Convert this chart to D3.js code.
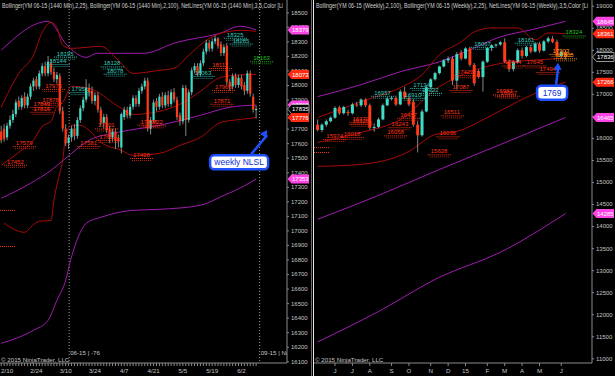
<!DOCTYPE html>
<html>
<head>
<meta charset="utf-8">
<script src="https://cdn.jsdelivr.net/npm/d3@7"></script>
<style>
  body { margin: 0; background: #000; }
  svg { display: block; font-family: "Liberation Sans", Arial, sans-serif; }
</style>
</head>
<body>
<svg id="chart" width="615" height="376"></svg>
<script>
// ---------- daily panel ----------
let leftTitle = "Bollinger(YM 06-15 (1440 Min),2,25), Bollinger(YM 06-15 (1440 Min),2,100), NetLines(YM 06-15 (1440 Min),3,5,Color [Li"
let leftDates = ["2/10", "2/24", "3/10", "3/24", "4/7", "4/21", "5/5", "5/19", "6/2"]
let leftDateIdx = [2, 12, 22, 32, 42, 52, 62, 72, 82]
let leftRollovers = [[23.2, "06-15 | -76"], [88.2, "09-15 | Nor"]]
// open, high, low, close
let leftBars = [
  [17680,17720,17600,17620],[17700,17730,17610,17630],[17640,17740,17620,17720],[17720,17790,17700,17760],
  [17760,17830,17740,17800],[17800,17900,17780,17880],[17890,17920,17830,17850],[17850,17930,17830,17910],
  [17920,17950,17840,17860],[17860,17940,17840,17920],[17920,18010,17900,17990],[17990,18050,17960,18030],
  [18040,18060,17970,17990],[17990,18100,17970,18080],[18080,18150,18060,18130],[18130,18160,18060,18080],
  [18080,18200,18060,18160],[18150,18180,18070,18090],[18090,18120,18020,18040],[18040,18090,18010,18070],
  [18060,18080,17800,17820],[17820,17850,17680,17700],[17700,17730,17580,17600],[17600,17660,17560,17640],
  [17640,17720,17610,17700],[17700,17730,17620,17650],[17650,17780,17630,17760],[17760,17860,17740,17840],
  [17840,17920,17820,17900],[17900,18040,17880,17980],[17980,18010,17920,17950],[17960,17990,17870,17890],
  [17890,17950,17860,17930],[17930,17950,17810,17830],[17830,17850,17720,17740],[17740,17800,17700,17780],
  [17780,17800,17670,17690],[17700,17720,17600,17640],[17640,17700,17610,17680],[17680,17700,17560,17620],
  [17640,17660,17570,17610],[17570,17810,17530,17800],[17780,17850,17760,17830],[17830,17850,17770,17790],
  [17790,17870,17770,17850],[17850,17930,17830,17910],[17910,17930,17850,17870],[17870,17980,17850,17960],
  [17960,18010,17940,17990],[17990,18050,17970,18030],[18030,18050,17680,17700],[17700,17780,17660,17760],
  [17760,17900,17740,17880],[17890,17910,17820,17850],[17850,17940,17830,17920],[17920,17950,17840,17860],
  [17860,17950,17840,17930],[17930,17960,17850,17870],[17870,17970,17850,17950],[17950,17980,17880,17900],
  [17900,17920,17760,17780],[17790,17810,17720,17750],[17750,18000,17730,17980],[17980,18000,17650,17760],
  [17760,17970,17740,17950],[17950,18120,17930,18100],[18100,18150,18080,18130],[18130,18150,18060,18080],
  [18080,18170,18060,18150],[18150,18250,18130,18230],[18230,18310,18210,18290],[18290,18310,18230,18250],
  [18250,18320,18230,18300],[18300,18340,18280,18320],[18320,18330,18250,18270],[18280,18300,18200,18220],
  [18220,18280,18200,18260],[18270,18290,18000,18020],[18020,18040,17960,17990],[17990,18080,17970,18060],
  [18060,18080,17980,18000],[18000,18070,17980,18050],[18050,18070,17970,17990],[18000,18020,17930,17960],
  [17960,18100,17940,18080],[18080,18100,17920,17940],[17920,17940,17810,17830],[17830,17860,17770,17835]
]
// band values as [bar index, price]
let leftUpper100 = [[0,18239],[16,18438],[22.5,18273],[29,18190],[32.7,18218],[48.4,18218],[60,18294],[74.7,18356],[81.5,18404],[87,18379]]
let leftMid100 = [[0,17221],[10,17324],[17,17413],[22,17496],[30,17620],[40,17675],[54,17723],[68,17792],[78,17847],[87,17862]]
let leftLower100 = [[0,16224],[6,16265],[11,16313],[16,16382],[19,16519],[22,16657],[23.5,16781],[27,16987],[29,17049],[34,17090],[45,17138],[54,17145],[68,17173],[76,17241],[80,17276],[87,17353]]
let leftUpper25 = [[0,17847],[6,18080],[11,18204],[14,18362],[17,18431],[19,18397],[21,18273],[24,18252],[34,18266],[40,18170],[45,18080],[54,18101],[59,18115],[64,18204],[70,18307],[75,18356],[82,18376],[87,18369]]
let leftMid25 = [[0,17448],[6,17537],[11,17620],[14,17716],[17,17750],[19,17853],[21,17880],[24,17991],[30,17977],[40,17853],[45,17798],[54,17819],[61,17867],[68,17957],[75,18053],[82,18070],[87,18073]]
let leftLower25 = [[1,17049],[8,16987],[10,17021],[13,17063],[17,17069],[18,17207],[20,17393],[21,17482],[22,17654],[24,17723],[27,17723],[30,17688],[34,17606],[41,17551],[45,17516],[54,17530],[61,17585],[68,17640],[75,17743],[82,17764],[87,17776]]
// NetLines labels [bar index, price]
let leftHighs = [[19,18195],[16.5,18144],[35,18128],[36,18078],[24,17951],[77,18325],[79,18285],[66,18063]]
let leftLows = [[15,17973],[14,17878],[11,17849],[11,17816],[5,17579],[2,17452],[33,17701],[27,17581],[33.5,17622],[45,17498],[49.5,17722],[47.5,17728],[72,18117],[73,17966],[72.5,17871]]
let leftGreen = [[86,18163]]
let leftStubs = [[0,17138],[0,16890]]
let leftMarkers = [[18379,"m"],[18073,"r"],[17862,"m"],[17835,"p"],[17776,"r"],[17353,"m"]]

// ---------- weekly panel ----------
let rightTitle = "Bollinger(YM 06-15 (Weekly),2,100), Bollinger(YM 06-15 (Weekly),2,25), NetLines(YM 06-15 (Weekly),3,5,Color [Li"
let rightMonths = ["J", "J", "A", "S", "O", "N", "D", "15", "F", "M", "A", "M", "J"]
let rightMonthIdx = [4, 8, 12, 17, 21, 26, 30, 34, 39, 43, 47, 51, 56]
let rightBars = [
  [16300,16420,16150,16180],[16180,16330,16130,16300],[16300,16420,16250,16380],[16380,16490,16350,16460],
  [16460,16720,16430,16680],[16690,16730,16520,16560],[16560,16730,16530,16700],[16590,16640,16500,16560],
  [16560,16800,16530,16760],[16760,16820,16700,16740],[16740,16900,16700,16870],[16870,16900,16700,16740],
  [16740,16780,16180,16230],[16230,16330,16140,16250],[16250,16460,16220,16420],[16420,16780,16400,16740],
  [16740,16930,16720,16890],[16890,16950,16850,16910],[16910,16960,16720,16760],[16760,17100,16740,17050],
  [17050,17160,16880,16920],[16900,16960,16720,16760],[16820,16880,16250,16300],[16300,16380,15670,16060],
  [16060,16650,16030,16600],[16600,17200,16580,17150],[17150,17360,17120,17330],[17330,17500,17300,17470],
  [17470,17640,17440,17620],[17620,17790,17600,17760],[17760,17850,17700,17800],[17800,17850,17200,17300],
  [17300,17950,17100,17900],[17940,17990,17760,17800],[17800,18060,17780,18030],[18030,18070,17620,17660],
  [17660,17700,17180,17240],[17520,17560,17350,17380],[17380,17760,17050,17730],[17730,18060,17700,18040],
  [18040,18130,17970,18100],[18100,18140,18050,18120],[18120,18200,18090,18170],[18170,18260,17700,17730],
  [17730,17780,17500,17560],[17560,17760,17510,17720],[17720,18030,17690,17990],[17990,18050,17800,17860],
  [17860,18090,17830,18060],[18060,18120,17920,17960],[17960,18170,17940,18140],[18140,18180,17930,17980],
  [17980,18220,17960,18190],[18190,18300,18150,18260],[18250,18310,18150,18180],[18180,18230,17820,17860],
  [17860,17990,17800,17950],[17950,17980,17780,17836]
]
let rightUpper100 = [[0,16937],[10,17208],[19,17502],[28,17728],[35,17999],[42,18293],[49,18451],[57,18645]]
let rightMid100 = [[0,14154],[14,14696],[28,15284],[42,15849],[57,16465]]
let rightLower100 = [[0,11371],[14,12062],[28,12840],[42,13405],[57,14285]]
let rightUpper25 = [[0,16462],[10,16824],[19,17140],[24,17434],[28,17886],[33,18180],[36,18406],[40,18496],[46,18496],[50,18225],[53,18383],[57,18361]]
let rightMid25 = [[0,15897],[10,16123],[19,16417],[28,17163],[35,17502],[43,17705],[51,17773],[57,17813]]
let rightLower25 = [[0,15355],[10,15400],[21,15694],[27,16078],[32,16146],[39,16462],[46,16824],[52,17095],[57,17266]]
let rightHighs = [[46,18161],[36,18067],[22,17134],[20,16910],[24,17022],[13,16957]]
let rightLows = [[8,16370],[8,16320],[6,16018],[2,15974],[19,16457],[17,16243],[16,16058],[28,16036],[26,15628],[29,16511],[31,17087],[32,17422],[43,17644],[48,17645],[51,17494],[41,16987],[42,16957]]
let rightOrange = [[54,17903],[55,17805]]
let rightGreen = [[57,18324]]
let rightStubs = [[0,15780],[0,15670]]
let rightMarkers = [[18645,"m"],[18361,"r"],[17836,"p"],[17266,"r"],[16465,"m"],[14285,"m"]]

// callouts: [text, bar index, price at box, price at arrow tip]
let leftCallout = ["weekly NLSL", 81.2, 17468, 17690]
let rightCallout = ["1769", 53.9, 17027, 17705]

let svg = d3.select("#chart")
let colors = {
  up: "#3fdcc8", down: "#ff3a18", wick: "#a8a8a8",
  b100: "#a01cb0", b25: "#a80a0a",
  m: "#ff44e6", r: "#ff2a10", teal: "#36c8bc", red: "#ff3418",
  green: "#22c022", orange: "#ff9a1a", axis: "#c4c4c4", blue: "#1e50ff"
}

svg.append("rect").attr("width", 615).attr("height", 376).attr("fill", "#000")

function drawPanel(p) {
  let g = svg.append("g")
  svg.append("clipPath").attr("id", "clip" + p.name)
    .append("rect").attr("x", p.left).attr("y", 0).attr("width", p.right - p.left).attr("height", p.bottom)
  let plot = g.append("g").attr("clip-path", `url(#clip${p.name})`)

  p.rollovers.forEach(r => {
    plot.append("line")
      .attr("x1", p.x(r[0])).attr("x2", p.x(r[0])).attr("y1", 0).attr("y2", p.bottom)
      .attr("stroke", "#9a9a9a").attr("stroke-dasharray", "1,2")
    plot.append("text").attr("x", p.x(r[0]) + 1).attr("y", p.bottom - 8)
      .attr("font-size", 6.2).attr("fill", colors.axis).text(r[1])
  })

  let line = d3.line().x(d => p.x(d[0])).y(d => p.y(d[1])).curve(d3.curveMonotoneX)
  p.bands.forEach(b => {
    plot.append("path").attr("d", line(b[0])).attr("fill", "none")
      .attr("stroke", b[1]).attr("stroke-width", 1)
  })

  // candles
  let c = plot.selectAll("g.candle").data(p.bars).enter().append("g")
  c.append("line")
    .attr("x1", (d, i) => p.x(i)).attr("x2", (d, i) => p.x(i))
    .attr("y1", d => p.y(d[1])).attr("y2", d => p.y(d[2]))
    .attr("stroke", colors.wick).attr("stroke-width", 0.8)
  c.append("rect")
    .attr("x", (d, i) => p.x(i) - p.bw / 2)
    .attr("y", d => p.y(Math.max(d[0], d[3])))
    .attr("width", p.bw)
    .attr("height", d => Math.max(1, Math.abs(p.y(d[0]) - p.y(d[3]))))
    .attr("fill", d => d[3] >= d[0] ? colors.up : colors.down)

  // net lines
  let net = (list, col) => list.forEach(d => {
    let x = p.x(d[0]), y = p.y(d[1])
    plot.append("line").attr("x1", x - 3).attr("x2", x + 21).attr("y1", y + 0.5).attr("y2", y + 0.5)
      .attr("stroke", col).attr("stroke-dasharray", "1,1")
    plot.append("line").attr("x1", x - 1).attr("x2", x + 18).attr("y1", y + 2.5).attr("y2", y + 2.5)
      .attr("stroke", col).attr("stroke-dasharray", "1,1").attr("opacity", 0.7)
    plot.append("text").attr("x", x).attr("y", y - 1)
      .attr("font-size", 6).attr("fill", col).text(d[1])
  })
  net(p.highs, colors.teal)
  net(p.lows, colors.red)
  net(p.green, colors.green)
  net(p.orange || [], colors.orange)
  p.stubs.forEach(d => {
    plot.append("line").attr("x1", p.left).attr("x2", p.left + 15)
      .attr("y1", p.y(d[1])).attr("y2", p.y(d[1]))
      .attr("stroke", colors.red).attr("stroke-dasharray", "1,1")
  })

  // title and copyright
  g.append("text").attr("x", p.left + 2).attr("y", 7.5).attr("font-size", 6.5)
    .attr("textLength", p.right - p.left - 6).attr("lengthAdjust", "spacingAndGlyphs")
    .attr("fill", "#d0d0d0").text(p.title)
  g.append("text").attr("x", p.left + 1).attr("y", p.bottom - 1).attr("font-size", 6.2)
    .attr("fill", colors.axis).text("\u00a9 2015 NinjaTrader, LLC")

  // y axis
  let ya = g.append("g").attr("transform", `translate(${p.right},0)`)
    .call(d3.axisRight(p.y).ticks(p.yTicks).tickSize(2).tickPadding(2).tickFormat(d3.format("d")))
  ya.select(".domain").attr("stroke", "#8a8a8a").attr("d", `M0,0V${p.bottom}`)
  ya.selectAll("line").attr("stroke", "#8a8a8a")
  ya.selectAll("text").attr("fill", colors.axis).attr("font-size", 6)
    .attr("font-family", "Liberation Sans, Arial")

  // x axis
  g.append("line").attr("x1", p.left).attr("x2", p.right).attr("y1", p.bottom).attr("y2", p.bottom)
    .attr("stroke", "#8a8a8a")
  p.tickIdx.forEach(i => {
    g.append("line").attr("x1", p.x(i)).attr("x2", p.x(i)).attr("y1", p.bottom).attr("y2", p.bottom + 3)
      .attr("stroke", "#8a8a8a")
  })
  p.labelIdx.forEach((i, k) => {
    g.append("text").attr("x", p.x(i)).attr("y", p.bottom + 10).attr("text-anchor", "middle")
      .attr("font-size", 6.2).attr("fill", colors.axis).text(p.labels[k])
  })

  // price markers
  p.markers.forEach(m => {
    let y = p.y(m[0]), ax = p.right + 0.5, h = 4.5
    let fill = m[1] == "p" ? "#000" : colors[m[1]]
    g.append("path")
      .attr("d", `M${ax},${y}L${ax + 4},${y - h}L${ax + 21.5},${y - h}L${ax + 21.5},${y + h}L${ax + 4},${y + h}Z`)
      .attr("fill", fill).attr("stroke", m[1] == "p" ? "#bdbdbd" : "none").attr("stroke-width", 0.8)
    g.append("text").attr("x", ax + 4.5).attr("y", y + 2.2).attr("font-size", 6)
      .attr("fill", "#fff").text(m[0])
  })

  // callout
  let co = p.callout
  let bx = p.x(co[1]), by = p.y(co[2]), tx = p.x(co[1]) + p.tipDx, ty = p.y(co[3])
  let ax0 = bx + p.arrowDx
  g.append("line").attr("x1", ax0).attr("y1", by - 8).attr("x2", tx).attr("y2", ty + 5)
    .attr("stroke", colors.blue).attr("stroke-width", 2.5)
  let ang = Math.atan2(ty - (by - 8), tx - ax0)
  let hl = 7, hw = 4
  let pts = [[tx, ty],
    [tx - hl * Math.cos(ang) + hw * Math.sin(ang), ty - hl * Math.sin(ang) - hw * Math.cos(ang)],
    [tx - hl * Math.cos(ang) - hw * Math.sin(ang), ty - hl * Math.sin(ang) + hw * Math.cos(ang)]]
  g.append("polygon").attr("points", pts.map(q => q.join(",")).join(" ")).attr("fill", colors.blue)
  let tw = p.calloutW
  g.append("rect").attr("x", bx - tw / 2).attr("y", by - 7).attr("width", tw).attr("height", 14).attr("rx", 4)
    .attr("fill", "#fff").attr("stroke", colors.blue).attr("stroke-width", 2.5)
  g.append("text").attr("x", bx).attr("y", by + 3).attr("text-anchor", "middle")
    .attr("font-size", 8.5).attr("fill", "#1030d0").text(co[0])
}

drawPanel({
  name: "L", left: 0, right: 287, bottom: 363, bw: 2.2, yTicks: 24,
  x: d3.scaleLinear().domain([0, 87]).range([1.2, 1.2 + 87 * 2.93]),
  y: d3.scaleLinear().domain([16100, 18500]).range([361.3, 12.3]),
  bars: leftBars, title: leftTitle, rollovers: leftRollovers,
  bands: [[leftUpper100, colors.b100], [leftMid100, colors.b100], [leftLower100, colors.b100],
          [leftUpper25, colors.b25], [leftMid25, colors.b25], [leftLower25, colors.b25]],
  highs: leftHighs, lows: leftLows, green: leftGreen, stubs: leftStubs,
  tickIdx: d3.range(leftBars.length), labelIdx: leftDateIdx, labels: leftDates,
  markers: leftMarkers, callout: leftCallout, tipDx: 28, arrowDx: 12, calloutW: 58
})

drawPanel({
  name: "R", left: 314, right: 592, bottom: 363, bw: 3, yTicks: 16,
  x: d3.scaleLinear().domain([0, 57]).range([317.6, 565.6]),
  y: d3.scaleLinear().domain([11000, 19000]).range([358.3, 5.7]),
  bars: rightBars, title: rightTitle, rollovers: [],
  bands: [[rightUpper100, colors.b100], [rightMid100, colors.b100], [rightLower100, colors.b100],
          [rightUpper25, colors.b25], [rightMid25, colors.b25], [rightLower25, colors.b25]],
  highs: rightHighs, lows: rightLows, green: rightGreen, orange: rightOrange, stubs: rightStubs,
  tickIdx: rightMonthIdx, labelIdx: rightMonthIdx, labels: rightMonths,
  markers: rightMarkers, callout: rightCallout, tipDx: 6, arrowDx: 4, calloutW: 30
})

// panel divider
svg.append("line").attr("x1", 311.5).attr("x2", 311.5).attr("y1", 0).attr("y2", 376)
  .attr("stroke", "#6a6a6a").attr("stroke-width", 1)
svg.append("line").attr("x1", 313.5).attr("x2", 313.5).attr("y1", 0).attr("y2", 376)
  .attr("stroke", "#e8e8e8").attr("stroke-width", 1)
</script>
</body>
</html>
